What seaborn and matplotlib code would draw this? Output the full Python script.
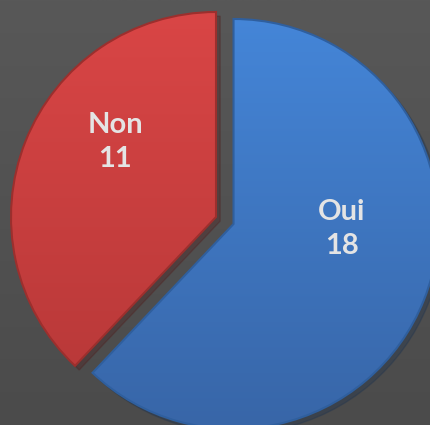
import matplotlib
matplotlib.use("Agg")
import matplotlib.pyplot as plt
import seaborn as sns
import numpy as np
from matplotlib.colors import LinearSegmentedColormap

labels = ["Oui", "Non"]
counts = [18, 11]
colors = ["#3d78c6", "#c93f3d"]
top_colors = ["#4587da", "#da4646"]
bottom_colors = ["#3866a8", "#b53737"]
edge_colors = ["#2f5f9e", "#9c2f2d"]

sns.set_style("dark")
plt.rcParams["font.family"] = ["Lato", "DejaVu Sans"]

fig = plt.figure(figsize=(4.31, 4.25), dpi=100)
fig.patch.set_facecolor("#505050")
ax = fig.add_axes([0, 0, 1, 1])
ax.axis("off")

# background gradient, a little lighter at the top
grad = np.linspace(0, 1, 256).reshape(-1, 1)
bg = LinearSegmentedColormap.from_list("bg", ["#4b4b4b", "#585858"])
ax.imshow(grad, cmap=bg, extent=[0, 431, 0, 425], origin="lower", aspect="auto", zorder=0)

r = 205
# explode is in data units here, so scale by the radius
wedges, _ = ax.pie(counts, colors=colors, explode=[0.092 * r, 0.0], startangle=90,
                   counterclock=False, radius=r, center=(216, 208),
                   shadow=dict(ox=3, oy=-3, shade=0.6, alpha=0.3))
for w, ec, top, bot in zip(wedges, edge_colors, top_colors, bottom_colors):
    w.set_edgecolor(ec)
    w.set_linewidth(1.5)
    w.set_zorder(3)
    w.set_facecolor("none")
    cm = LinearSegmentedColormap.from_list("g", [bot, top])
    im = ax.imshow(grad, cmap=cm, extent=[0, 431, 0, 425], origin="lower",
                   aspect="auto", zorder=2)
    im.set_clip_path(w)

ax.text(115, 283, f"{labels[1]}\n{counts[1]}", ha="center", va="center",
        color="#e4e4e4", fontsize=21, fontweight="bold", linespacing=1.4, zorder=5)
ax.text(342, 196, f"{labels[0]}\n{counts[0]}", ha="center", va="center",
        color="#e4e4e4", fontsize=21, fontweight="bold", linespacing=1.4, zorder=5)

ax.set_xlim(0, 431)
ax.set_ylim(0, 425)
ax.set_aspect("equal")
fig.savefig("out.png", dpi=100, facecolor=fig.get_facecolor())
